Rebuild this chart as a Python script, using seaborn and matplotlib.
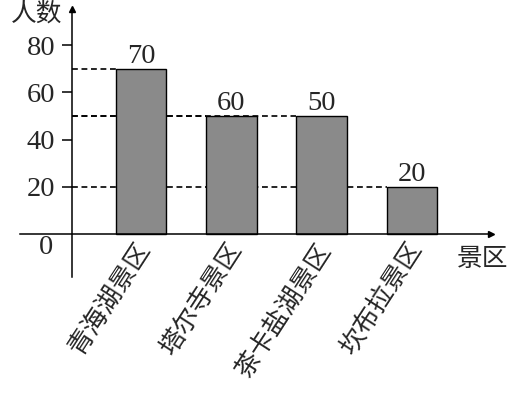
import matplotlib
matplotlib.use("Agg")
import matplotlib.pyplot as plt
import matplotlib.transforms as mtransforms
import seaborn as sns
import pandas as pd

# ---- data ----
categories = ["青海湖景区", "塔尔寺景区", "茶卡盐湖景区", "坎布拉景区"]
bar_heights = [70, 50, 50, 20]          # heights as drawn
value_labels = ["70", "60", "50", "20"]  # numbers printed above bars
y_ticks = [20, 40, 60, 80]
y_label = "人数"
x_label = "景区"

sns.set_style("white")
plt.rcParams["font.family"] = ["Liberation Serif", "Noto Sans CJK SC"]

W, H = 528, 394
fig = plt.figure(figsize=(W / 100, H / 100), dpi=100)
ax = fig.add_axes([20 / W, (H - 277) / H, 471 / W, 268 / H])

df = pd.DataFrame({"cat": categories, "val": bar_heights})
bar_w = 0.56
sns.barplot(data=df, x="cat", y="val", ax=ax, color="#8a8a8a", saturation=1,
            width=bar_w, edgecolor="black", linewidth=1.0, zorder=2)

yaxis_x = -0.764
ax.set_xlim(-1.340, 3.875)
ax.set_ylim(-18.22, 95.34)

# dashed guide lines from the y axis to each bar
for i, h in enumerate(bar_heights):
    ax.hlines(h, yaxis_x, i - bar_w / 2, colors="black", linewidth=1.2,
              linestyles=(0, (3.5, 2.2)), zorder=0.5)

# value labels above bars
ax.bar_label(ax.containers[0], labels=value_labels, padding=0, fontsize=20.5,
             family=["Liberation Serif"])

# spines
for s in ["top", "right"]:
    ax.spines[s].set_visible(False)
ax.spines["left"].set_position(("data", yaxis_x))
ax.spines["bottom"].set_position(("data", 0))
for s in ["left", "bottom"]:
    ax.spines[s].set_linewidth(1.1)
    ax.spines[s].set_color("black")

# arrows
ax.plot(1, 0, ">k", markersize=5, transform=ax.get_yaxis_transform(), clip_on=False)
ax.plot(yaxis_x, 1, "^k", markersize=5, transform=ax.get_xaxis_transform(), clip_on=False)

# y ticks
ax.set_yticks(y_ticks)
ax.set_yticklabels([str(t) for t in y_ticks], fontsize=20.5)
ax.tick_params(axis="y", direction="out", length=7, width=1.1, pad=5, color="black",
               left=True)

# x ticks (category labels)
ax.set_xticks(range(len(categories)))
ax.set_xticklabels(categories, fontsize=18.5, rotation=57, ha="right",
                   rotation_mode="anchor", family=["Noto Sans CJK SC"])
ax.tick_params(axis="x", length=0, pad=3)
off = mtransforms.ScaledTranslation(-6 / 100, 0, fig.dpi_scale_trans)
for lab in ax.get_xticklabels():
    lab.set_va("top")
    lab.set_transform(lab.get_transform() + off)

ax.set_xlabel("")
ax.set_ylabel("")

fig.text(37 / W, 1 - 14 / H, y_label, ha="center", va="center", fontsize=18.5,
         family=["Noto Sans CJK SC"])
fig.text(483 / W, 1 - 259 / H, x_label, ha="center", va="center", fontsize=18.5,
         family=["Noto Sans CJK SC"])
fig.text(46 / W, 1 - 248 / H, "0", ha="center", va="center", fontsize=20.5,
         family=["Liberation Serif"])

fig.savefig("out.png", dpi=100)
